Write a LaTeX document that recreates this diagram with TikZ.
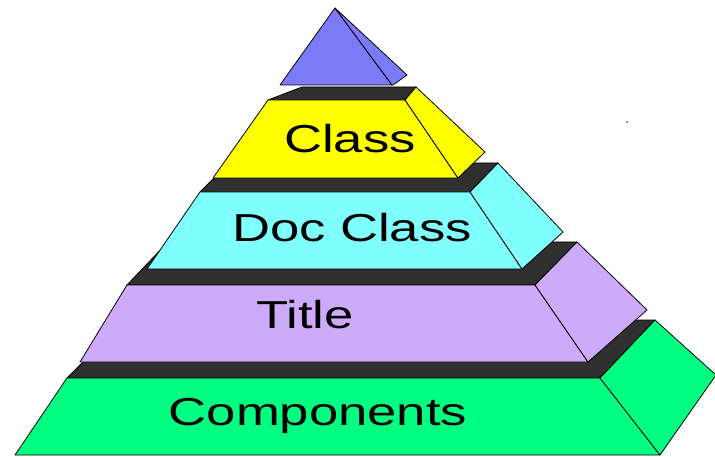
\documentclass[tikz,border=0pt]{standalone}
\usepackage{fontspec}
\newfontfamily\tierfont[FakeStretch=1.35]{Liberation Sans}
\definecolor{tierblue}{RGB}{123,123,247}
\definecolor{tieryellow}{RGB}{255,255,0}
\definecolor{tiercyan}{RGB}{128,255,255}
\definecolor{tierlilac}{RGB}{206,170,250}
\definecolor{tiergreen}{RGB}{0,255,128}
\definecolor{tierdark}{RGB}{48,48,48}

\begin{document}
\begin{tikzpicture}[x=1pt,y=-1pt,
  face/.style={draw=black,line width=0.8pt,line join=round},
  tiertext/.style={font=\tierfont\fontsize{39}{39}\selectfont,text=black,inner sep=0pt,anchor=base}]
\useasboundingbox (0,0) rectangle (715,457);
% bottom tier
\draw [face,fill=tierdark] (67,378) -- (125,320) -- (655,320) -- (600,378) -- cycle;
\draw [face,fill=tiergreen] (67,378) -- (600,378) -- (660,455) -- (15,455) -- cycle;
\draw [face,fill=tiergreen] (600,378) -- (655,320) -- (716,375) -- (660,455) -- cycle;
% third tier
\draw [face,fill=tierdark] (127,285) -- (168,242) -- (577,242) -- (535,285) -- cycle;
\draw [face,fill=tierlilac] (127,285) -- (535,285) -- (588,362) -- (80,362) -- cycle;
\draw [face,fill=tierlilac] (535,285) -- (577,242) -- (647,310) -- (588,362) -- cycle;
% second tier
\draw [face,fill=tierdark] (200,192) -- (229,163) -- (498,163) -- (470,192) -- cycle;
\draw [face,fill=tiercyan] (200,192) -- (470,192) -- (522,269) -- (147,269) -- cycle;
\draw [face,fill=tiercyan] (470,192) -- (498,163) -- (563,232) -- (522,269) -- cycle;
% first tier
\draw [face,fill=tierdark] (268,100) -- (302,87) -- (416,87) -- (405,100) -- cycle;
\draw [face,fill=tieryellow] (268,100) -- (405,100) -- (458,178) -- (213,178) -- cycle;
\draw [face,fill=tieryellow] (405,100) -- (416,87) -- (485,152) -- (458,178) -- cycle;
% top
\draw [face,fill=tierblue] (335,8) -- (392,85) -- (280,85) -- cycle;
\draw [face,fill=tierblue] (335,8) -- (407,75) -- (393,85) -- (392,85) -- cycle;
\fill [black!70] (627,122) circle (1);
% texts
\node [tiertext] (cls) at (350,153) {Class};
\node [tiertext] (doc) at (352,242) {Doc Class};
\node [tiertext] (ttl) at (305,328) {Title};
\node [tiertext] (cmp) at (318,425) {Components};
\end{tikzpicture}
\end{document}
